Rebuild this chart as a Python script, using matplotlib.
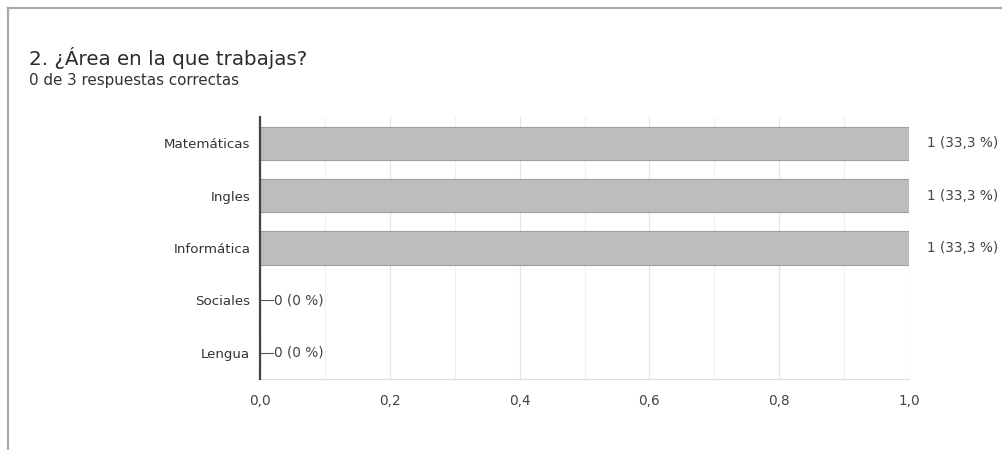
import matplotlib
matplotlib.use('Agg')
import matplotlib.pyplot as plt
from matplotlib.lines import Line2D
from matplotlib.ticker import MultipleLocator

plt.rcParams['font.family'] = ['DejaVu Sans']

titulo = '2. ¿Área en la que trabajas?'
subtitulo = '0 de 3 respuestas correctas'
areas = ['Matemáticas', 'Ingles', 'Informática', 'Sociales', 'Lengua']
respuestas = [1, 1, 1, 0, 0]
porcentajes = ['33,3', '33,3', '33,3', '0', '0']
xticks = [0.0, 0.2, 0.4, 0.6, 0.8, 1.0]

fig = plt.figure(figsize=(10.03, 4.5), dpi=100)
fig.patch.set_facecolor('white')

# card outline (top and left edge)
fig.add_artist(Line2D([8 / 1003, 1.0], [1 - 8 / 450, 1 - 8 / 450], color='#a9a9a9', lw=1.6))
fig.add_artist(Line2D([8 / 1003, 8 / 1003], [0, 1 - 8 / 450], color='#a9a9a9', lw=1.6))

fig.text(29 / 1003, 1 - 58 / 450, titulo, fontsize=14.3, color='#2b2b2b', va='center')
fig.text(29 / 1003, 1 - 81 / 450, subtitulo, fontsize=10.9, color='#333333', va='center')

ax = fig.add_axes([260 / 1003, 1 - 379 / 450, 649 / 1003, 262 / 450])
ypos = list(range(len(areas)))
ax.barh(ypos, respuestas, height=0.63, color='#bdbdbd', edgecolor='#9e9e9e', lw=0.8, zorder=3)
ax.set_ylim(len(areas) - 0.5, -0.5)
ax.set_xlim(0, 1.0)
ax.set_yticks(ypos)
ax.set_yticklabels(areas, fontsize=9.6, color='#333333')
ax.set_xticks(xticks)
ax.set_xticklabels([f'{t:.1f}'.replace('.', ',') for t in xticks], fontsize=9.8, color='#444444')
ax.xaxis.set_minor_locator(MultipleLocator(0.1))
ax.grid(axis='x', which='major', color='#e4e4e4', lw=0.9, zorder=0)
ax.grid(axis='x', which='minor', color='#f0f0f0', lw=0.8, zorder=0)
ax.tick_params(axis='y', which='both', length=0, pad=7)
ax.tick_params(axis='x', which='both', length=0, pad=11)
for side in ['top', 'right']:
    ax.spines[side].set_visible(False)
ax.spines['bottom'].set_color('#dddddd')
ax.spines['left'].set_color('#444444')
ax.spines['left'].set_linewidth(1.6)
ax.spines['left'].set_zorder(4)

for y, v, p in zip(ypos, respuestas, porcentajes):
    if v > 0:
        ax.text(v + 0.027, y, f'{v} ({p} %)', fontsize=9.8, color='#444444', va='center', ha='left')
    else:
        ax.plot([0, 0.02], [y, y], color='#555555', lw=0.8, zorder=4, clip_on=False)
        ax.text(0.021, y, f'{v} ({p} %)', fontsize=9.8, color='#444444', va='center', ha='left')

fig.savefig('out.png', dpi=100)
